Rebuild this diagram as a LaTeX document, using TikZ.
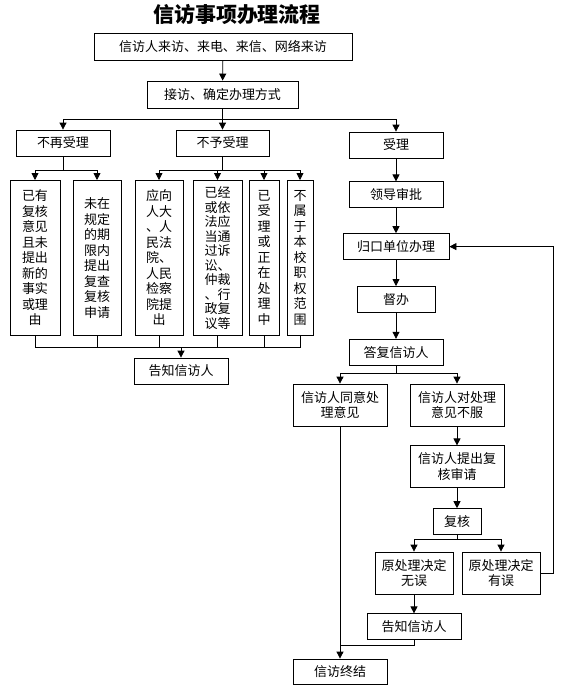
\documentclass[tikz,border=0pt]{standalone}
\usepackage{fontspec}
\setmainfont{Noto Sans CJK SC}
\usetikzlibrary{positioning,arrows.meta}

\tikzset{
  box/.style={draw, line width=0.8pt, inner sep=0pt, align=center,
    minimum height=26pt, font=\fontsize{13}{15.5}\selectfont},
  tallbox/.style={box, anchor=north, minimum height=155pt},
  arr/.style={-{Triangle[length=7pt,width=7pt]}, line width=0.8pt},
  ln/.style={line width=0.8pt}
}

\begin{document}
\begin{tikzpicture}[x=1pt,y=-1pt]
    \useasboundingbox (0,0) rectangle (565,689);
    \node (title) at (237,15) {\fontsize{21}{24}\selectfont\bfseries 信访事项办理流程};
    \node (visit) [box, minimum width=258pt, minimum height=27pt] at (223,46.5) {信访人来访、来电、来信、网络来访};
    \node (recv) [box, minimum width=151pt, minimum height=27pt] at (222.5,94.5) {接访、确定办理方式};
    \node (noretry) [box, minimum width=94pt] at (63,143) {不再受理};
    \node (reject) [box, minimum width=93pt] at (222.5,143) {不予受理};
    \node (accept) [box, minimum width=94pt] at (396,145) {受理};

    % reasons
    \node (ra) [tallbox, minimum width=50pt] at (35,180) {已有\\复核\\意见\\且未\\提出\\新的\\事实\\或理\\由};
    \node (rb) [tallbox, minimum width=48pt] at (97,180) {未在\\规定\\的期\\限内\\提出\\复查\\复核\\申请};
    \node (rc) [tallbox, minimum width=48pt] at (159,180) {应向\\人大\\、人\\民法\\院、\\人民\\检察\\院提\\出};
    \node (rd) [tallbox, minimum width=49pt, font=\fontsize{13}{14.5}\selectfont] at (217.5,180) {已经\\或依\\法应\\当通\\过诉\\讼、\\仲裁\\、行\\政复\\议等};
    \node (re) [tallbox, minimum width=30pt] at (264,180) {已\\受\\理\\或\\正\\在\\处\\理\\中};
    \node (rf) [tallbox, minimum width=26pt] at (300,180) {不\\属\\于\\本\\校\\职\\权\\范\\围};
    \node (tell1) [box, minimum width=94pt] at (181,371) {告知信访人};

    % right column
    \node (approve) [box, minimum width=94pt, below=23pt of accept] {领导审批};
    \node (assign) [box, minimum width=106pt, below=25pt of approve] {归口单位办理};
    \node (supervise) [box, minimum width=78pt, below=26pt of assign] {督办};
    \node (reply) [box, minimum width=94pt, below=26pt of supervise] {答复信访人};
    \node (agree) [box, minimum width=94pt, minimum height=42pt] at (340,405) {信访人同意处\\理意见};
    \node (object) [box, minimum width=94pt, minimum height=42pt] at (457,405) {信访人对处理\\意见不服};
    \node (request) [box, minimum width=94pt, minimum height=42pt, below=19pt of object] {信访人提出复\\核审请};
    \node (review) [box, minimum width=48pt, below=20pt of request] {复核};
    \node (correct) [box, minimum width=78pt, minimum height=42pt] at (414,573) {原处理决定\\无误};
    \node (wrong) [box, minimum width=78pt, minimum height=42pt] at (501,573) {原处理决定\\有误};
    \node (tell2) [box, minimum width=94pt, below=19pt of correct] {告知信访人};
    \node (final) [box, minimum width=94pt, minimum height=25pt] at (340,671.5) {信访终结};

    \coordinate (br1) at (222.5,119);
    \coordinate (br2) at (63,170);
    \coordinate (br3) at (222.5,170);
    \coordinate (mg) at (181,347);
    \coordinate (br4) at (396,373);
    \coordinate (br5) at (457,539);
    \coordinate (back) at (553,573);
    \coordinate (jn) at (340,645);

    % top part
    \draw [arr] (visit) -- (recv);
    \draw [arr] (recv) -- (reject);
    \draw [arr] (br1) -| (noretry);
    \draw [arr] (br1) -| (accept);
    \draw [ln] (noretry) -- (br2);
    \draw [arr] (br2) -| (ra);
    \draw [arr] (br2) -| (rb);
    \draw [ln] (reject) -- (br3);
    \foreach \r in {rc,rd,re,rf}
        \draw [arr] (br3) -| (\r);
    \foreach \r in {ra,rb,rc,rd,re,rf}
        \draw [ln] (\r) |- (mg);
    \draw [arr] (mg) -- (tell1);

    % accepted
    \draw [arr] (accept) -- (approve);
    \draw [arr] (approve) -- (assign);
    \draw [arr] (assign) -- (supervise);
    \draw [arr] (supervise) -- (reply);
    \draw [ln] (reply) -- (br4);
    \draw [arr] (br4) -| (agree);
    \draw [arr] (br4) -| (object);
    \draw [arr] (object) -- (request);
    \draw [arr] (request) -- (review);
    \draw [ln] (review) -- (br5);
    \draw [arr] (br5) -| (correct);
    \draw [arr] (br5) -| (wrong);
    \draw [arr] (correct) -- (tell2);
    \draw [arr] (wrong) -- (back) |- (assign);
    \draw [arr] (agree) -- (final);
    \draw [ln] (tell2) |- (jn);
\end{tikzpicture}
\end{document}
